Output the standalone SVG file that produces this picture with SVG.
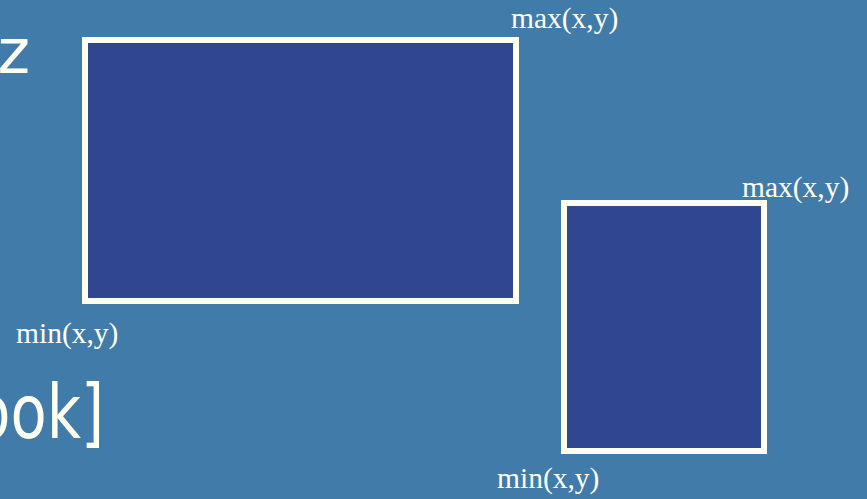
<svg xmlns="http://www.w3.org/2000/svg" width="867" height="499" viewBox="0 0 867 499">
  <style>
    .box { fill: #30468F; stroke: #FFFFF2; stroke-width: 6; }
    .big { font-family: "DejaVu Sans", "Open Sans", sans-serif; fill: #FFFFF2; text-anchor: end; }
    .lbl { font-family: "Liberation Serif", "Times New Roman", serif; font-size: 29.5px; fill: #FFFFF2; }
  </style>
  <rect width="867" height="499" fill="#417BAA"/>
  <g id="bullets">
    <text class="big" x="30" y="73" font-size="62">z</text>
    <text class="big" x="130" y="438" font-size="74" transform="scale(0.8,1)">ook]</text>
  </g>
  <g id="box-a">
    <rect class="box" x="85" y="40" width="431" height="261"/>
    <text class="lbl" x="511" y="28">max(x,y)</text>
    <text class="lbl" x="16" y="343">min(x,y)</text>
  </g>
  <g id="box-b">
    <rect class="box" x="564" y="203" width="200" height="248"/>
    <text class="lbl" x="742" y="197">max(x,y)</text>
    <text class="lbl" x="497" y="488">min(x,y)</text>
  </g>
  <g id="connectors"/>
</svg>
